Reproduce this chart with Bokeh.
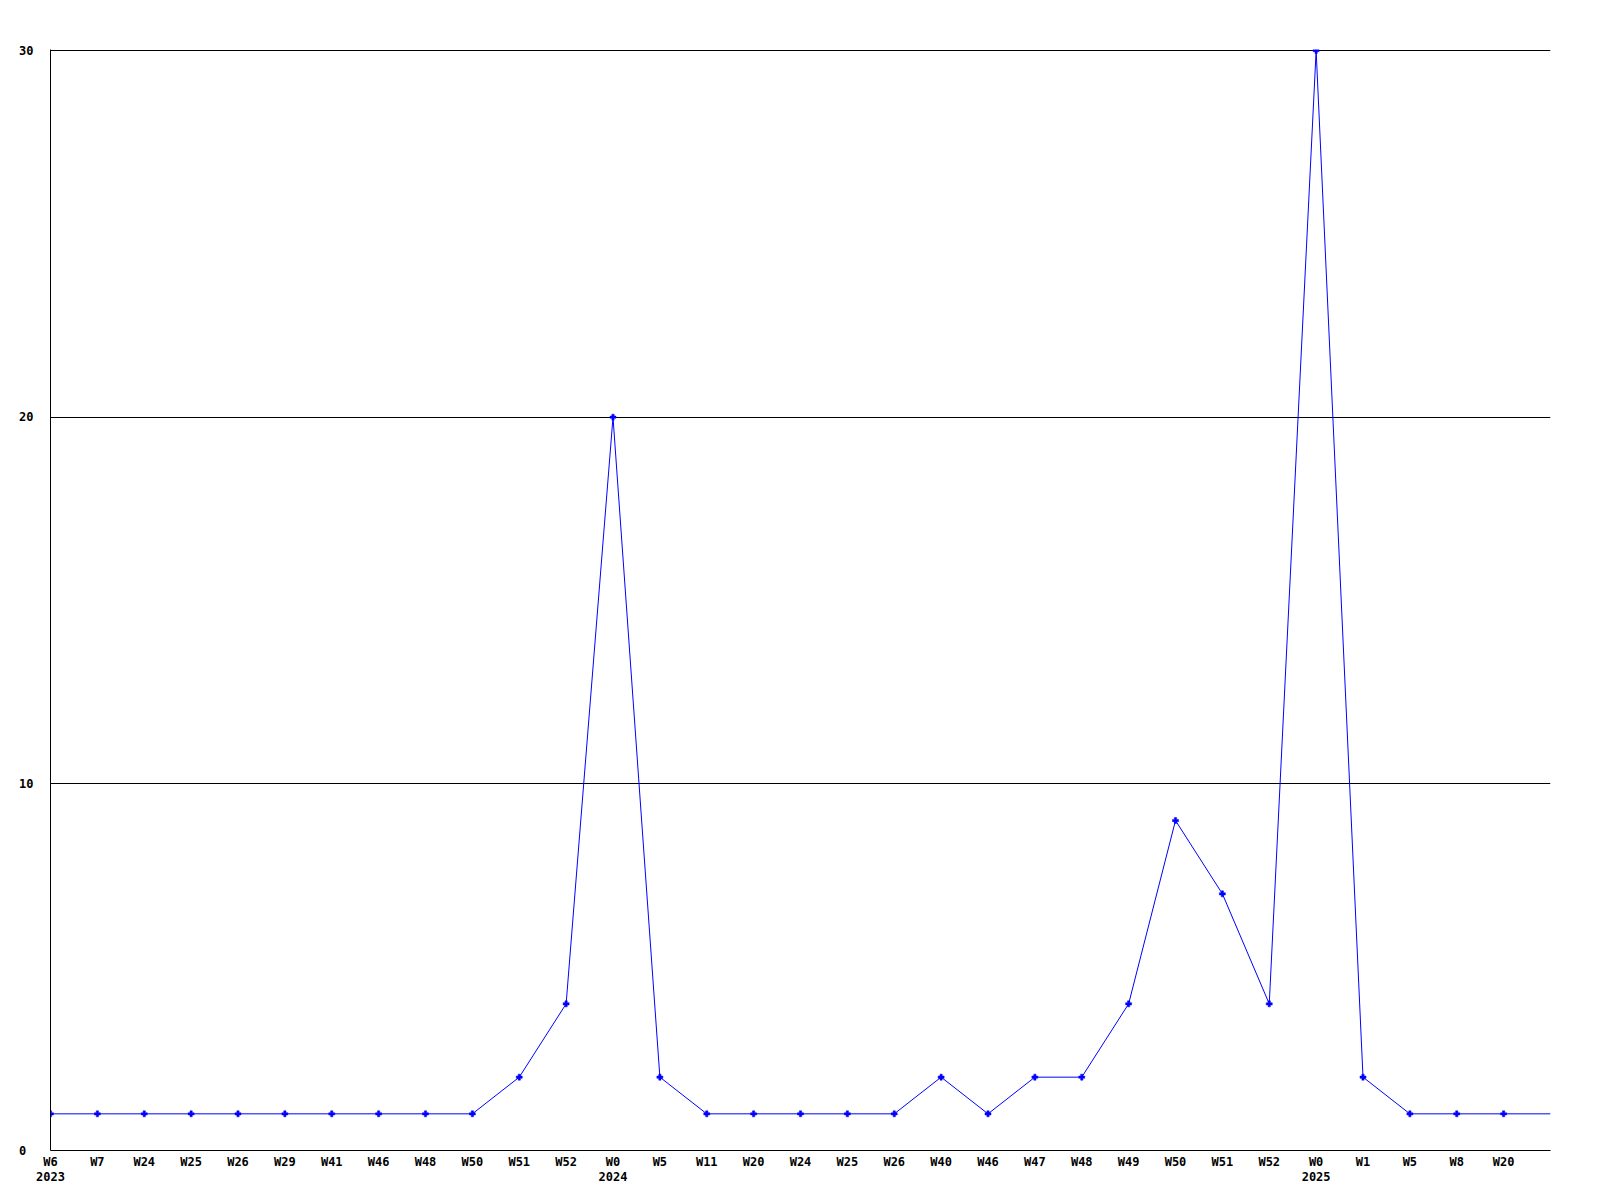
from bokeh.plotting import figure
from bokeh.models import Range1d, FixedTicker
from bokeh.embed import file_html
from bokeh.resources import INLINE

week_labels = ["W6", "W7", "W24", "W25", "W26", "W29", "W41", "W46", "W48", "W50", "W51", "W52",
               "W0", "W5", "W11", "W20", "W24", "W25", "W26", "W40", "W46", "W47", "W48", "W49",
               "W50", "W51", "W52", "W0", "W1", "W5", "W8", "W20"]
year_marks = {0: "2023", 12: "2024", 27: "2025"}
values = [1, 1, 1, 1, 1, 1, 1, 1, 1, 1, 2, 4,
          20, 2, 1, 1, 1, 1, 1, 2, 1, 2, 2, 4,
          9, 7, 4, 30, 2, 1, 1, 1]
tail_value = 1
y_ticks = [0, 10, 20, 30]
y_tick_labels = ["0", "10", "20", "30"]

n = len(values)
xs = list(range(n))

W, H = 1592, 1192
# one extra pixel above the top value so that its grid line is not clipped
y_top = 30 + 30 / 1100
p = figure(width=W, height=H, output_backend="svg", toolbar_location=None,
           x_range=Range1d(0, n), y_range=Range1d(0, y_top),
           min_border_left=50, min_border_right=42, min_border_top=49, min_border_bottom=42)
p.outline_line_color = None
p.background_fill_color = "white"
p.border_fill_color = "white"

FONT = "DejaVu Sans Mono"

p.xaxis.ticker = FixedTicker(ticks=xs)
p.xaxis.major_label_overrides = {
    i: (lab + "\n" + year_marks[i]) if i in year_marks else lab
    for i, lab in enumerate(week_labels)
}
p.yaxis.ticker = FixedTicker(ticks=y_ticks)
p.yaxis.major_label_overrides = {
    t: (lab + "\u00a0" * (2 - len(lab))) for t, lab in zip(y_ticks, y_tick_labels)
}

for ax in (p.xaxis[0], p.yaxis[0]):
    ax.axis_line_color = "black"
    ax.axis_line_width = 1
    ax.major_tick_line_color = None
    ax.minor_tick_line_color = None
    ax.major_tick_out = 0
    ax.major_tick_in = 0
    ax.major_label_text_font = FONT
    ax.major_label_text_font_style = "bold"
    ax.major_label_text_font_size = "12px"
    ax.major_label_text_color = "black"

p.xaxis.major_label_standoff = 4
p.xaxis.major_label_text_line_height = 1.1
p.yaxis.major_label_standoff = 17

p.xgrid.grid_line_color = None
p.ygrid.ticker = FixedTicker(ticks=[10, 20, 30])
p.ygrid.grid_line_color = "black"
p.ygrid.grid_line_width = 1
p.ygrid.grid_line_alpha = 1

p.line(xs + [n], values + [tail_value], line_color="#0000ff", line_width=1)
p.scatter(xs, values, marker="plus", size=6, fill_color="#0000ff", line_color="#0000ff", line_width=0.5)

open("out.html", "w").write(file_html(p, INLINE))
